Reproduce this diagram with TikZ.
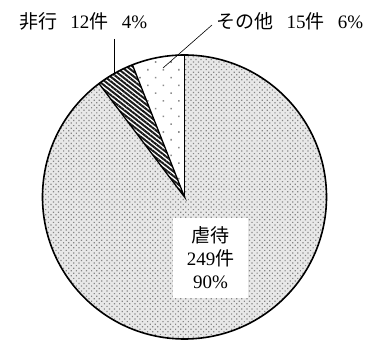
\documentclass[tikz,border=0pt]{standalone}
\usepackage{fontspec}
\setmainfont{Liberation Serif}
\newfontfamily\cjk{Noto Sans CJK JP}
\usetikzlibrary{patterns.meta}
\begin{document}
\begin{tikzpicture}[x=1pt,y=1pt,
  lbl/.style={font=\fontsize{19}{22}\selectfont, inner sep=0pt},
  leader/.style={draw=black, line width=0.6pt},
  rim/.style={draw=black, line width=1.6pt},
  spoke/.style={draw=black, line width=1.3pt}]
\useasboundingbox (0,0) rectangle (378,342);
\begin{scope}[shift={(184.5,145)}]
  % 虐待 90%
  \fill[gray!18] (0,0) -- (127:142) arc[start angle=127,end angle=450,radius=142] -- cycle;
  \fill[pattern={Dots[distance=3.6pt,angle=45,radius=0.85pt]},pattern color=gray!95] (0,0) -- (127:142) arc[start angle=127,end angle=450,radius=142] -- cycle;
  % 非行 4%
  \fill[pattern={Lines[distance=3.6pt,angle=-38,line width=2pt]},pattern color=black!90] (0,0) -- (111.5:142) arc[start angle=111.5,end angle=127,radius=142] -- cycle;
  % その他 6%
  \fill[pattern={Dots[distance=11pt,angle=45,radius=1.1pt]},pattern color=gray!90] (0,0) -- (90:142) arc[start angle=90,end angle=111.5,radius=142] -- cycle;
  \draw[spoke] (127:142) -- (0,0) -- (111.5:142);
  \draw[rim] (0,0) -- (90:142);
  \draw[rim] (0,0) circle[radius=142];
  \coordinate (hikoend) at (-70.5,123.3);
  \coordinate (sonoend) at (-21.5,129);
\end{scope}
\node[lbl, anchor=west] (hiko) at (19,321) {{\cjk 非行}\hspace{0.7em}12{\cjk 件}\hspace{0.7em}4\%};
\node[lbl, anchor=west] (sono) at (216,321) {{\cjk その他}\hspace{0.7em}15{\cjk 件}\hspace{0.7em}6\%};
\coordinate (hikostart) at (114,303);
\coordinate (sonostart) at (212,317);
\draw[line width=0.9pt] (hikostart) -- (hikoend);
\draw[leader] (sonostart) -- (sonoend);
\node[fill=white, minimum width=75pt, minimum height=80pt, inner sep=0pt] (box) at (210.5,84) {};
\node[lbl, align=center] (gyaku) at (box.center) {{\cjk 虐待}\\[1pt]249{\cjk 件}\\[1pt]90\%};
\end{tikzpicture}
\end{document}
